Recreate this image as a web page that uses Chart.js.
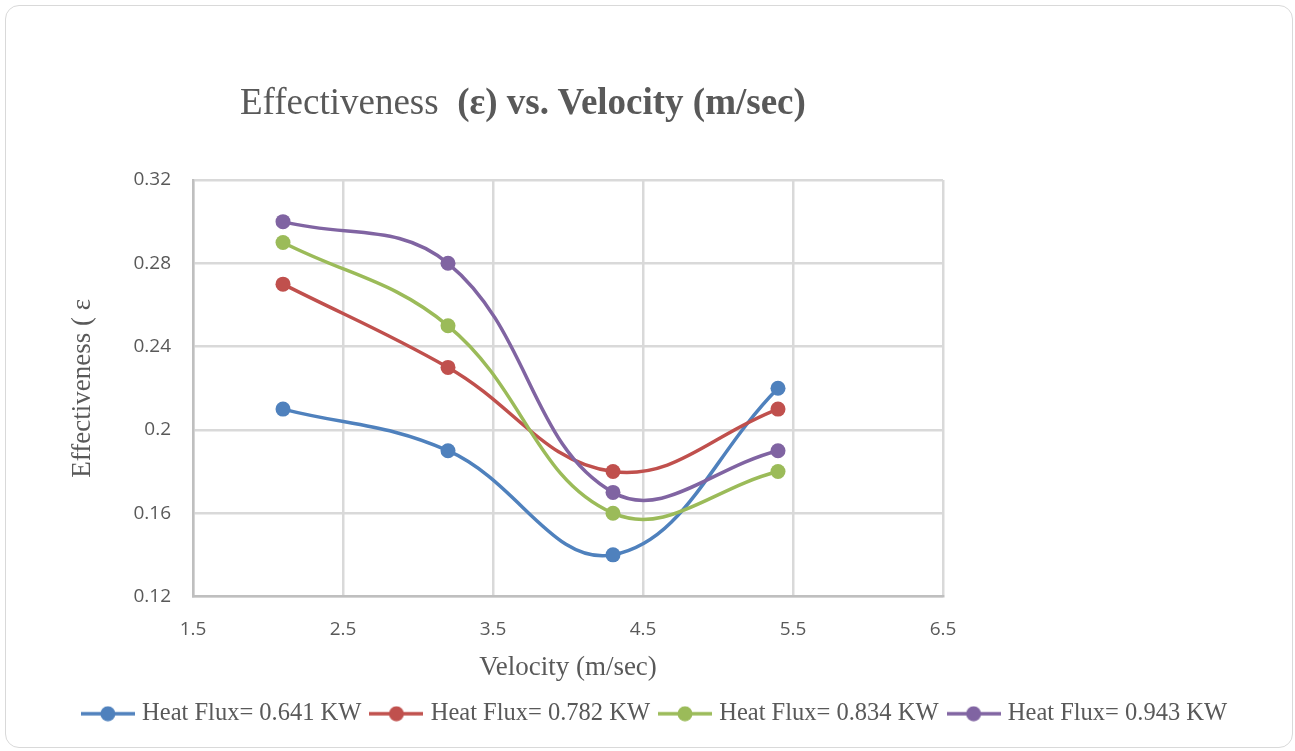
<!DOCTYPE html>
<html>
<head>
<meta charset="utf-8">
<script src="https://cdn.jsdelivr.net/npm/chart.js@4.4.1/dist/chart.umd.min.js"></script>
<style>
  body{margin:0;background:#fff;}
  #wrap{position:relative;width:1295px;height:751px;overflow:hidden;}
  #frame{position:absolute;left:5px;top:5px;width:1286px;height:741px;border:1.5px solid #d9d9d9;border-radius:14px;}
  #title{position:absolute;left:240px;top:84px;line-height:36px;font-size:37px;font-family:"Liberation Serif","Times New Roman",serif;color:#595959;white-space:pre;}
  #title b{font-weight:bold;}
  canvas{position:absolute;left:0;top:0;}
</style>
</head>
<body>
<div id="wrap">
  <div id="frame"></div>
  <canvas id="cv" width="1295" height="751"></canvas>
  <div id="title">Effectiveness  <b>(ε) vs. Velocity (m/sec)</b></div>
</div>
<script>
// values
const velocity = [2.1, 3.2, 4.3, 5.4];
const flux641 = [0.21, 0.19, 0.14, 0.22];
const flux782 = [0.27, 0.23, 0.18, 0.21];
const flux834 = [0.29, 0.25, 0.16, 0.18];
const flux943 = [0.30, 0.28, 0.17, 0.19];
const seriesNames = ['Heat Flux= 0.641 KW','Heat Flux= 0.782 KW','Heat Flux= 0.834 KW','Heat Flux= 0.943 KW'];
const xTicks = [1.5, 2.5, 3.5, 4.5, 5.5, 6.5];
const yTicks = [0.12, 0.16, 0.2, 0.24, 0.28, 0.32];

const colors = ['#4f81bd','#c0504d','#9bbb59','#8064a2'];
const grey = '#595959';

function pts(ys){ return ys.map((y,i)=>({x:velocity[i], y:y})) }

function makeIcon(color){
  const c = document.createElement('canvas');
  c.width = 54; c.height = 16;
  const g = c.getContext('2d');
  g.strokeStyle = color; g.lineWidth = 3.5;
  g.beginPath(); g.moveTo(0,8); g.lineTo(54,8); g.stroke();
  g.fillStyle = color;
  g.beginPath(); g.arc(27,8,7.5,0,Math.PI*2); g.fill();
  return c;
}
const icons = colors.map(makeIcon);

const allSeries = [flux641, flux782, flux834, flux943];
const datasets = allSeries.map((s,i)=>({
  label: seriesNames[i],
  data: pts(s),
  borderColor: colors[i],
  backgroundColor: colors[i],
  borderWidth: 3.5,
  pointRadius: 7.5,
  pointBorderWidth: 0,
  tension: 0.4,
  fill: false,
  order: 4 - i
}));

new Chart(document.getElementById('cv'), {
  type: 'line',
  data: { datasets: datasets },
  options: {
    responsive: false,
    animation: false,
    layout: { padding: { left: 18, right: 0, top: 180, bottom: 15 } },
    plugins: {
      tooltip: { enabled: false },
      title: { display: false },
      legend: {
        position: 'bottom',
        labels: {
          usePointStyle: true,
          pointStyleWidth: 44,
          padding: 13,
          color: grey,
          font: { family: '"Liberation Serif", serif', size: 24.5 },
          sort: (a,b) => a.datasetIndex - b.datasetIndex,
          generateLabels: chart => chart.data.datasets.map((ds,i)=>({
            text: ds.label,
            pointStyle: icons[i],
            fontColor: grey,
            fillStyle: colors[i],
            strokeStyle: colors[i],
            lineWidth: 0,
            hidden: false,
            datasetIndex: i
          }))
        }
      }
    },
    scales: {
      x: {
        type: 'linear',
        min: 1.5, max: 6.5,
        afterBuildTicks: s => { s.ticks = xTicks.map(v=>({value:v})) },
        afterFit: s => { s.height = 92 },
        grid: { color: '#d9d9d9', lineWidth: 2.5, drawTicks: false },
        border: { color: '#bfbfbf', width: 2.5 },
        ticks: { padding: 22, color: grey, font: { family: '"Open Sans", sans-serif', size: 19 }, callback: v => String(v) },
        title: { display: true, text: 'Velocity (m/sec)', color: grey,
                 font: { family: '"Liberation Serif", serif', size: 27 }, padding: { top: 0, bottom: 4 } }
      },
      y: {
        type: 'linear',
        position: 'left',
        min: 0.12, max: 0.32,
        afterBuildTicks: s => { s.ticks = yTicks.map(v=>({value:v})) },
        afterFit: s => { s.width = 175 },
        grid: { color: '#d9d9d9', lineWidth: 2.5, drawTicks: false },
        border: { color: '#bfbfbf', width: 2.5 },
        ticks: { padding: 22, color: grey, font: { family: '"Open Sans", sans-serif', size: 19 }, callback: v => String(v) },
        title: { display: true, text: 'Effectiveness ( ε', color: grey,
                 font: { family: '"Liberation Serif", serif', size: 27 }, padding: { top: 49, bottom: 0 } }
      },
      spare: {
        type: 'linear',
        position: 'right',
        grid: { display: false },
        border: { display: false },
        ticks: { display: false },
        afterFit: s => { s.width = 352 }
      }
    }
  }
});
</script>
</body>
</html>
